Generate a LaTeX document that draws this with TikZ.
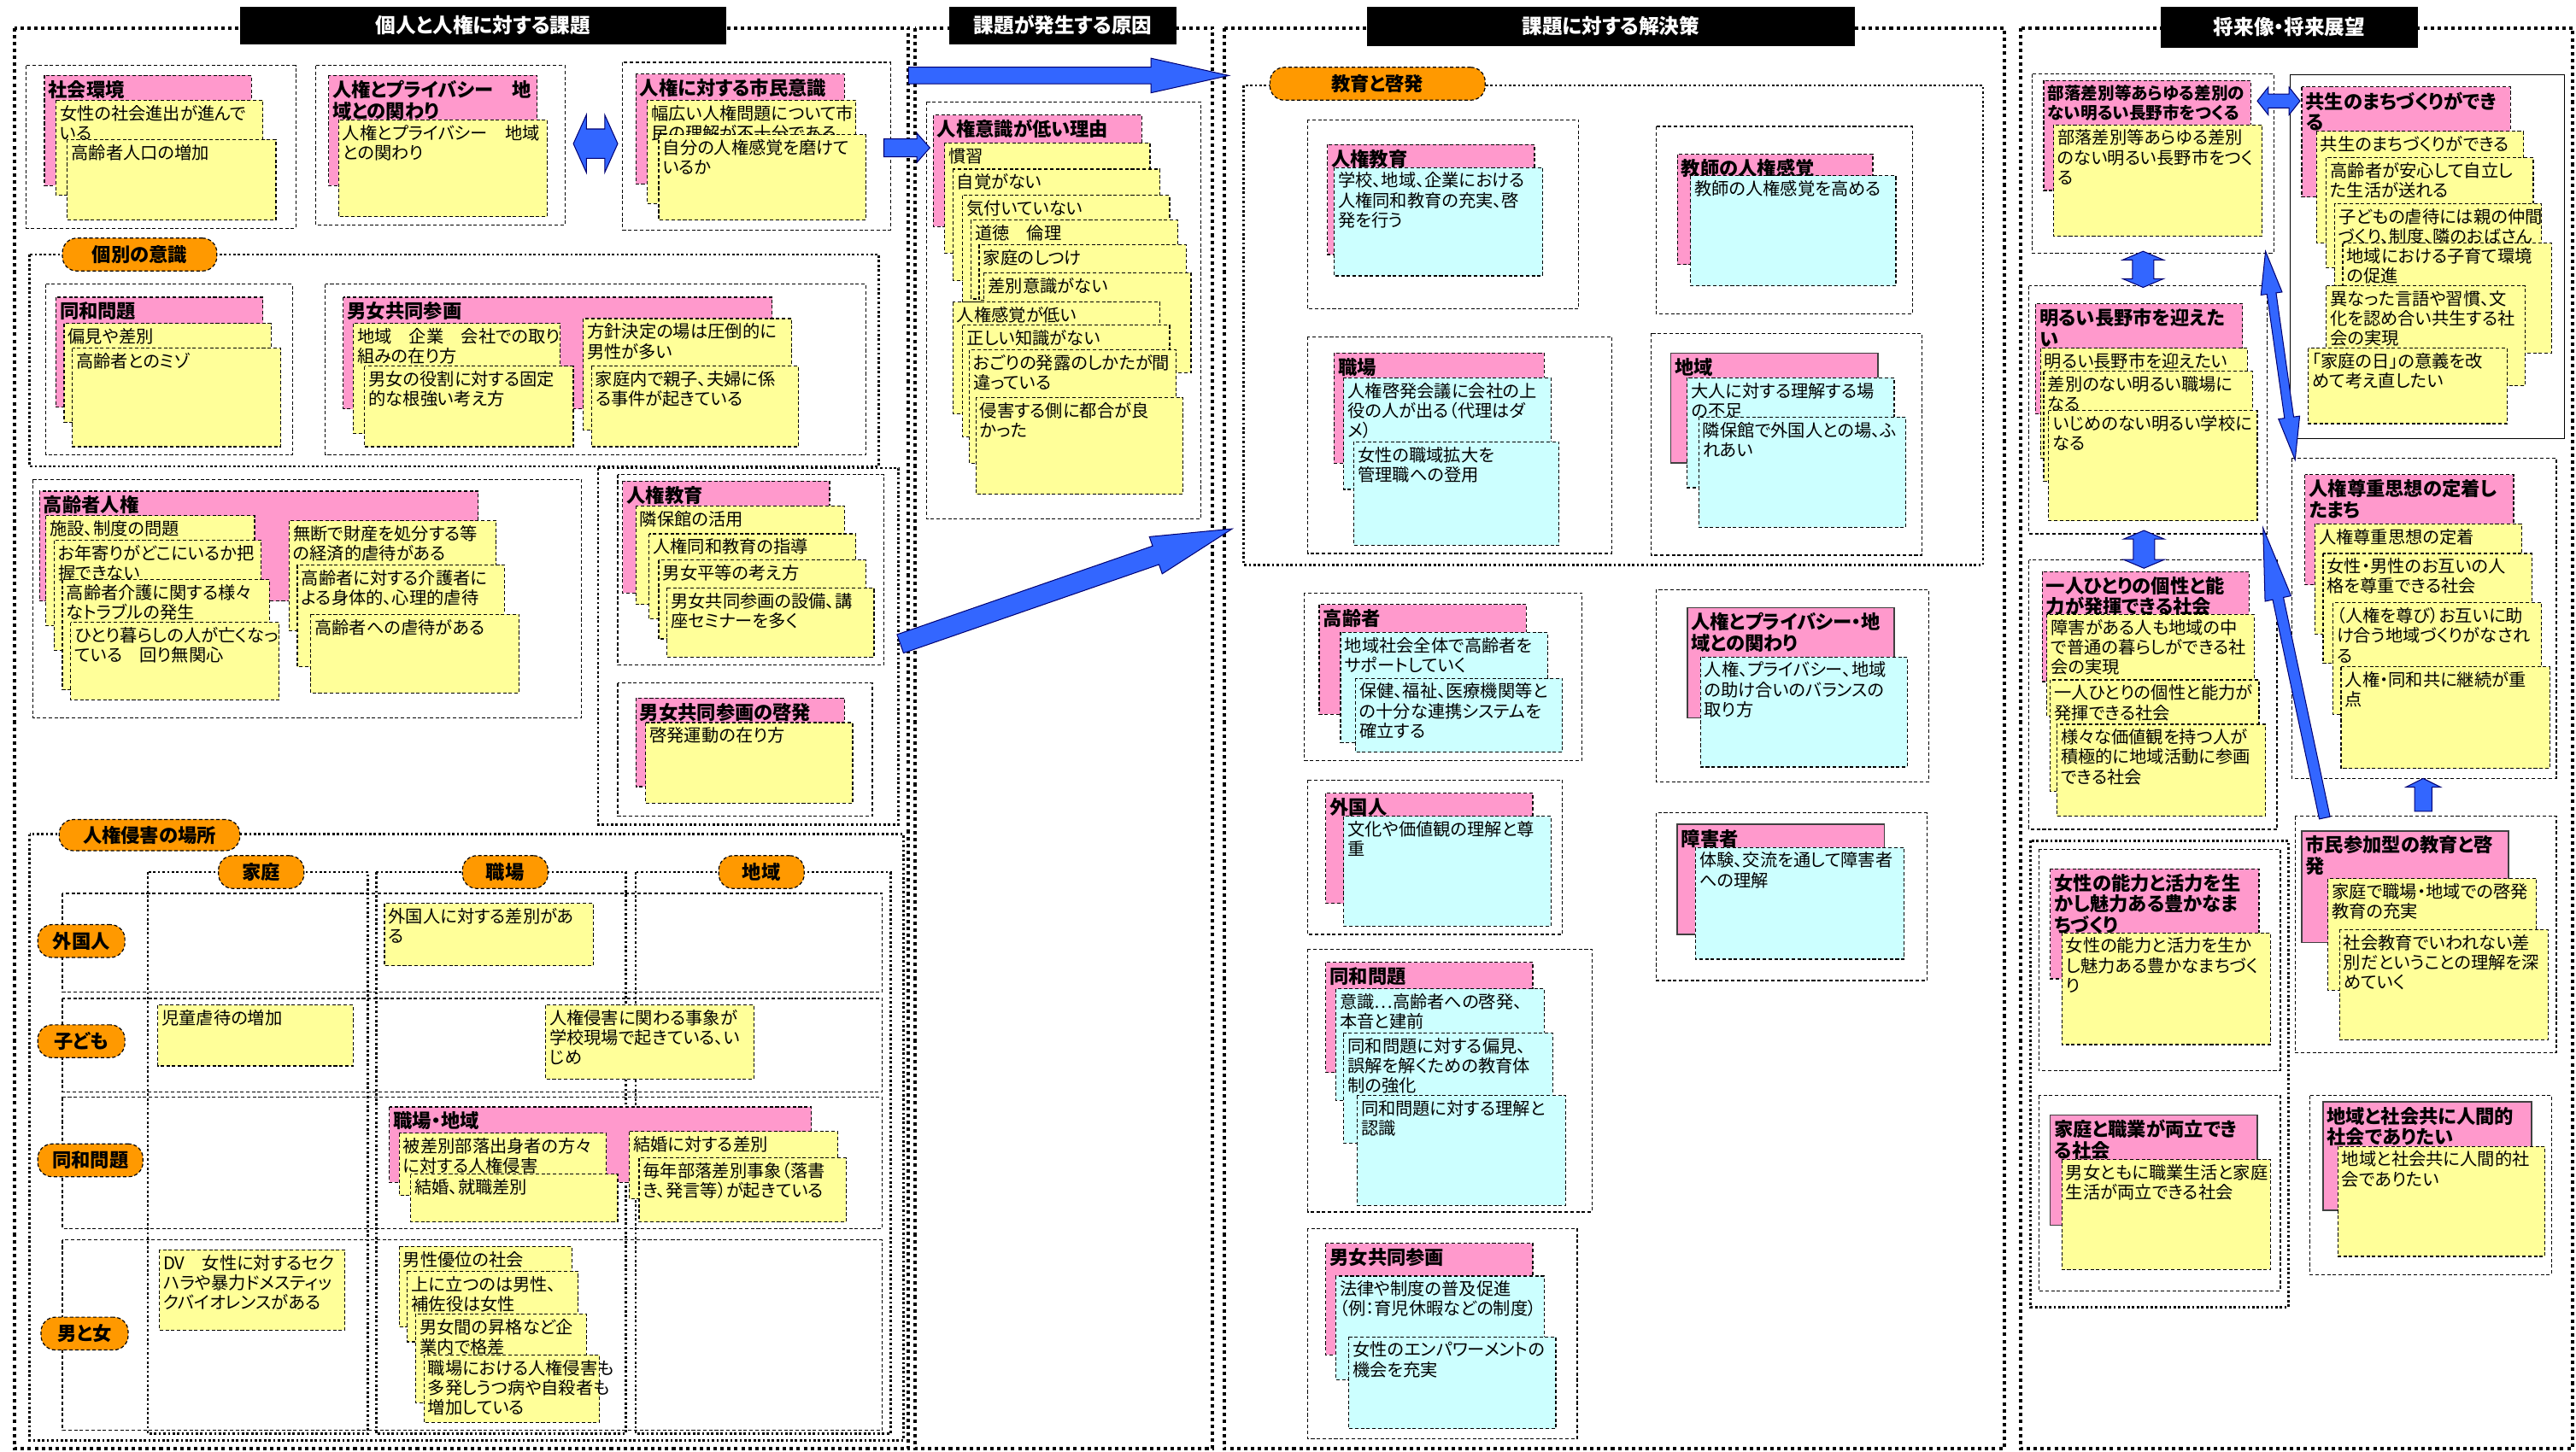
\documentclass[tikz,border=0pt]{standalone}
\usepackage{fontspec}
\setmainfont{Noto Sans CJK JP}[RawFeature=+palt]
\usetikzlibrary{calc}

\definecolor{notepink}{HTML}{FF99CC}
\definecolor{noteyellow}{HTML}{FFFF99}
\definecolor{notecyan}{HTML}{CCFFFF}
\definecolor{tagorange}{HTML}{FF9900}
\definecolor{arrowblue}{HTML}{3366FF}

\newlength{\pxu}
\setlength{\pxu}{0.02cm}

\tikzset{
  colframe/.style={line width=1.2pt, dash pattern=on 1.2pt off 1.2pt},
  secframe/.style={line width=0.8pt, dash pattern=on 0.8pt off 0.8pt},
  boxframe/.style={line width=0.35pt, dash pattern=on 1.2pt off 0.8pt},
  pinknote/.style={boxframe, fill=notepink},
  pinksolid/.style={draw=black!75, line width=0.45pt, fill=notepink},
  yellownote/.style={boxframe, fill=noteyellow},
  cyannote/.style={boxframe, fill=notecyan},
  notetext/.style={anchor=north west, inner xsep=1.2pt, inner ysep=1.5pt, align=left, font=\fontsize{6}{6.85}\selectfont},
  titletext/.style={notetext, font=\fontsize{6.6}{7.3}\selectfont\bfseries},
  header/.style={fill=black, text=white, inner sep=0pt, font=\fontsize{7}{8}\selectfont\bfseries},
  tag/.style={fill=tagorange, draw=black, line width=0.35pt, dash pattern=on 1.2pt off 0.8pt, rounded corners=5pt, inner sep=0pt, font=\fontsize{6.6}{7.5}\selectfont\bfseries},
  blockarrow/.style={fill=arrowblue, draw=blue!45!black, line width=0.3pt, line join=miter}
}

% note: [text style]{box style}{name}{top left}{bottom right}{text}
\newcommand{\note}[6][notetext]{\draw[#2] (#4) rectangle (#5); \node[#1] (#3) at (#4) {#6};}

% block arrows: from, to, shaft half width, head half width, head length
\newcommand{\blockarrow}[5]{%
  \coordinate (hdB) at ($(#2)!#5!(#1)$);
  \filldraw[blockarrow] ($(#1)!#3!90:(#2)$) -- ($(hdB)!#3!-90:(#1)$) -- ($(hdB)!#4!-90:(#1)$) -- (#2)
    -- ($(hdB)!#4!90:(#1)$) -- ($(hdB)!#3!90:(#1)$) -- ($(#1)!#3!-90:(#2)$) -- cycle;}
\newcommand{\dblarrow}[5]{%
  \coordinate (hdB) at ($(#2)!#5!(#1)$);
  \coordinate (hdA) at ($(#1)!#5!(#2)$);
  \filldraw[blockarrow] (#1) -- ($(hdA)!#4!-90:(#2)$) -- ($(hdA)!#3!-90:(#2)$) -- ($(hdB)!#3!90:(#1)$)
    -- ($(hdB)!#4!90:(#1)$) -- (#2) -- ($(hdB)!#4!-90:(#1)$) -- ($(hdB)!#3!-90:(#1)$)
    -- ($(hdA)!#3!90:(#2)$) -- ($(hdA)!#4!90:(#2)$) -- cycle;}

\begin{document}
\begin{tikzpicture}[x=0.02cm, y=-0.02cm]
\useasboundingbox (0,0) rectangle (1568,884);

% 個人と人権に対する課題
\draw[colframe] (9,17) rectangle (553,882);
\node[header, minimum width=296\pxu, minimum height=23\pxu] (hdIssue) at (294,15.5) {個人と人権に対する課題};

\draw[boxframe] (16,40) rectangle (180,139);
\note[titletext]{pinknote}{env}{27,46}{153,113}{社会環境}
\note{yellownote}{envA}{34,61}{160,119}{女性の社会進出が進んで\\いる}
\note{yellownote}{envB}{41,85}{168,134}{高齢者人口の増加}

\draw[boxframe] (192,40) rectangle (344,137);
\note[titletext]{pinknote}{priv}{200,46}{327,113}{人権とプライバシー　地\\域との関わり}
\note{yellownote}{privA}{206,73}{333,132}{人権とプライバシー　地域\\との関わり}

\draw[boxframe] (379,38) rectangle (542,140);
\note[titletext]{pinknote}{citz}{387,45}{514,112}{人権に対する市民意識}
\note{yellownote}{citzA}{394,61}{521,124}{幅広い人権問題について市\\民の理解が不十分である}
\note{yellownote}{citzB}{401,82}{527,134}{自分の人権感覚を磨けて\\いるか}

% 個別の意識
\draw[secframe] (18,155) rectangle (535,284);
\node[tag, minimum width=94\pxu, minimum height=20\pxu] (tagOwn) at (85,155) {個別の意識};

\draw[boxframe] (28,173) rectangle (178,277);
\note[titletext]{pinknote}{dowa}{34,181}{160,248}{同和問題}
\note{yellownote}{dowaA}{39,197}{165,257}{偏見や差別}
\note{yellownote}{dowaB}{44,212}{171,272}{高齢者とのミゾ}

\draw[boxframe] (198,173) rectangle (527,277);
\note[titletext]{pinknote}{gend}{209,181}{470,249}{男女共同参画}
\note{yellownote}{gendA}{215,197}{341,264}{地域　企業　会社での取り\\組みの在り方}
\note{yellownote}{gendB}{222,223}{349,272}{男女の役割に対する固定\\的な根強い考え方}
\note{yellownote}{gendC}{355,194}{482,262}{方針決定の場は圧倒的に\\男性が多い}
\note{yellownote}{gendD}{360,223}{486,272}{家庭内で親子、夫婦に係\\る事件が起きている}

% 高齢者人権
\draw[boxframe] (20,292) rectangle (354,437);
\note[titletext]{pinknote}{eld}{24,299}{291,366}{高齢者人権}
\note{yellownote}{eldA}{28,314}{155,381}{施設、制度の問題}
\note{yellownote}{eldB}{33,329}{159,396}{お年寄りがどこにいるか把\\握できない}
\note{yellownote}{eldC}{38,353}{164,420}{高齢者介護に関する様々\\なトラブルの発生}
\note{yellownote}{eldD}{43,379}{170,426}{ひとり暮らしの人が亡くなっ\\ている　回り無関心}
\note{yellownote}{eldE}{176,317}{302,384}{無断で財産を処分する等\\の経済的虐待がある}
\note{yellownote}{eldF}{181,344}{307,406}{高齢者に対する介護者に\\よる身体的、心理的虐待}
\note{yellownote}{eldG}{189,374}{316,422}{高齢者への虐待がある}

% 人権教育
\draw[secframe] (364,285) rectangle (547,502);
\draw[boxframe] (376,289) rectangle (538,405);
\note[titletext]{pinknote}{edu}{379,293}{505,361}{人権教育}
\note{yellownote}{eduA}{387,308}{514,368}{隣保館の活用}
\note{yellownote}{eduB}{395,325}{521,377}{人権同和教育の指導}
\note{yellownote}{eduC}{401,341}{527,389}{男女平等の考え方}
\note{yellownote}{eduD}{406,358}{532,400}{男女共同参画の設備、講\\座セミナーを多く}
\draw[boxframe] (376,416) rectangle (531,497);
\note[titletext]{pinknote}{awar}{387,425}{514,479}{男女共同参画の啓発}
\note{yellownote}{awarA}{393,440}{519,489}{啓発運動の在り方}

% 人権侵害の場所
\draw[secframe] (18,508) rectangle (550,877);
\foreach \xa/\xb in {90/224, 229/381, 387/542}
  \draw[secframe] (\xa,531) rectangle (\xb,873);
\foreach \ya/\yb in {544/604, 608/665, 668/748, 755/871}
  \draw[boxframe] (38,\ya) rectangle (537,\yb);
\node[tag, minimum width=110\pxu, minimum height=19\pxu] (tagPlace) at (91,508.5) {人権侵害の場所};
\foreach \x/\t/\n in {159/家庭/tagHome, 307.5/職場/tagWork, 463.5/地域/tagArea}
  \node[tag, minimum width=52\pxu, minimum height=20\pxu] (\n) at (\x,531) {\t};
\foreach \x/\y/\w/\t/\n in {49.5/573/53/外国人/tagFor, 49.5/634/53/子ども/tagKid, 55/706.5/64/同和問題/tagDowa, 51.5/812/53/男と女/tagMF}
  \node[tag, minimum width=\w\pxu, minimum height=20\pxu] (\n) at (\x,\y) {\t};

\note{yellownote}{forW}{234,550}{361,588}{外国人に対する差別があ\\る}
\note{yellownote}{kidH}{96,612}{215,649}{児童虐待の増加}
\note{yellownote}{kidW}{332,612}{459,657}{人権侵害に関わる事象が\\学校現場で起きている、い\\じめ}
\note[titletext]{pinknote}{dowaW}{237,674}{494,720}{職場・地域}
\note{yellownote}{dowaWA}{243,690}{369,728}{被差別部落出身者の方々\\に対する人権侵害}
\note{yellownote}{dowaWB}{250,715}{376,744}{結婚、就職差別}
\note{yellownote}{dowaWC}{383,689}{510,730}{結婚に対する差別}
\note{yellownote}{dowaWD}{389,705}{515,744}{毎年部落差別事象（落書\\き、発言等）が起きている}
\note{yellownote}{mfH}{97,761}{210,810}{DV　女性に対するセク\\ハラや暴力ドメスティッ\\クバイオレンスがある}
\note{yellownote}{mfWA}{243,759}{348,808}{男性優位の社会}
\note{yellownote}{mfWB}{248,774}{352,817}{上に立つのは男性、\\補佐役は女性}
\note{yellownote}{mfWC}{253,800}{357,854}{男女間の昇格など企\\業内で格差}
\note{yellownote}{mfWD}{258,825}{365,866}{職場における人権侵害も\\多発しうつ病や自殺者も\\増加している}

% 課題が発生する原因
\draw[colframe] (557,17) rectangle (738,882);
\node[header, minimum width=138\pxu, minimum height=23\pxu] (hdCause) at (647,15.5) {課題が発生する原因};
\draw[boxframe] (564,62) rectangle (731,316);
\note[titletext]{pinknote}{low}{568,70}{695,138}{人権意識が低い理由}
\note{yellownote}{lowA}{575,87}{700,154}{慣習}
\note{yellownote}{lowB}{580,103}{706,171}{自覚がない}
\note{yellownote}{lowC}{586,119}{712,184}{気付いていない}
\note{yellownote}{lowD}{591,134}{717,182}{道徳　倫理}
\note{yellownote}{lowE}{596,149}{722,183}{家庭のしつけ}
\note{yellownote}{lowF}{599,166}{725,227}{差別意識がない}
\note{yellownote}{lowG}{580,184}{706,252}{人権感覚が低い}
\note{yellownote}{lowH}{586,198}{712,266}{正しい知識がない}
\note{yellownote}{lowI}{590,213}{716,282}{おごりの発露のしかたが間\\違っている}
\note{yellownote}{lowJ}{594,242}{720,301}{侵害する側に都合が良\\かった}

% 課題に対する解決策
\draw[colframe] (745,17) rectangle (1220,882);
\node[header, minimum width=297\pxu, minimum height=24\pxu] (hdSolve) at (980.5,16) {課題に対する解決策};
\draw[secframe] (757,52) rectangle (1207,344);
\node[tag, minimum width=131\pxu, minimum height=20\pxu] (tagEdu) at (838.5,51) {教育と啓発};

\draw[boxframe] (796,73) rectangle (961,188);
\note[titletext]{pinknote}{sEdu}{808,88}{934,155}{人権教育}
\note{cyannote}{sEduA}{812,102}{939,168}{学校、地域、企業における\\人権同和教育の充実、啓\\発を行う}
\draw[boxframe] (1008,77) rectangle (1164,191);
\note[titletext]{pinknote}{sTch}{1021,94}{1140,161}{教師の人権感覚}
\note{cyannote}{sTchA}{1029,107}{1154,174}{教師の人権感覚を高める}
\draw[boxframe] (796,205) rectangle (981,337);
\note[titletext]{pinknote}{sWrk}{812,215}{940,282}{職場}
\note{cyannote}{sWrkA}{818,230}{944,298}{人権啓発会議に会社の上\\役の人が出る（代理はダ\\メ）}
\note{cyannote}{sWrkB}{824,269}{949,332}{女性の職域拡大を\\管理職への登用}
\draw[boxframe] (1005,203) rectangle (1170,338);
\note[titletext]{pinksolid}{sArea}{1017,215}{1143,282}{地域}
\note{cyannote}{sAreaA}{1027,230}{1153,297}{大人に対する理解する場\\の不足}
\note{cyannote}{sAreaB}{1034,254}{1160,321}{隣保館で外国人との場、ふ\\れあい}

\draw[boxframe] (794,361) rectangle (963,463);
\note[titletext]{pinknote}{sEld}{803,368}{929,435}{高齢者}
\note{cyannote}{sEldA}{816,385}{942,452}{地域社会全体で高齢者を\\サポートしていく}
\note{cyannote}{sEldB}{825,413}{951,458}{保健、福祉、医療機関等と\\の十分な連携システムを\\確立する}
\draw[boxframe] (1008,359) rectangle (1174,476);
\note[titletext]{pinksolid}{sPriv}{1027,370}{1153,437}{人権とプライバシー・地\\域との関わり}
\note{cyannote}{sPrivA}{1035,400}{1161,467}{人権、プライバシー、地域\\の助け合いのバランスの\\取り方}
\draw[boxframe] (796,475) rectangle (951,569);
\note[titletext]{pinknote}{sFor}{807,483}{933,550}{外国人}
\note{cyannote}{sForA}{818,497}{944,564}{文化や価値観の理解と尊\\重}
\draw[boxframe] (1008,495) rectangle (1173,597);
\note[titletext]{pinksolid}{sDis}{1021,502}{1147,569}{障害者}
\note{cyannote}{sDisA}{1032,516}{1159,584}{体験、交流を通して障害者\\への理解}
\draw[boxframe] (796,578) rectangle (969,738);
\note[titletext]{pinknote}{sDowa}{807,586}{933,653}{同和問題}
\note{cyannote}{sDowaA}{813,602}{940,670}{意識…高齢者への啓発、\\本音と建前}
\note{cyannote}{sDowaB}{818,629}{945,696}{同和問題に対する偏見、\\誤解を解くための教育体\\制の強化}
\note{cyannote}{sDowaC}{826,667}{953,734}{同和問題に対する理解と\\認識}
\draw[boxframe] (796,748) rectangle (960,876);
\note[titletext]{pinknote}{sGend}{807,757}{933,825}{男女共同参画}
\note{cyannote}{sGendA}{813,777}{940,840}{法律や制度の普及促進\\（例：育児休暇などの制度）}
\note{cyannote}{sGendB}{821,814}{947,870}{女性のエンパワーメントの\\機会を充実}

% 将来像・将来展望
\draw[colframe] (1230,17) rectangle (1566,882);
\node[header, minimum width=157\pxu, minimum height=25\pxu] (hdFuture) at (1393.5,16.5) {将来像・将来展望};

\draw[boxframe] (1237,45) rectangle (1384,154);
\note[titletext, font=\fontsize{5.8}{6.8}\selectfont\bfseries]{pinknote}{fBur}{1244,49}{1370,116}{部落差別等あらゆる差別の\\ない明るい長野市をつくる}
\note{yellownote}{fBurA}{1250,76}{1377,144}{部落差別等あらゆる差別\\のない明るい長野市をつく\\る}

\draw[line width=0.5pt] (1394,45.5) rectangle (1561,267);
\note[titletext]{pinknote}{fLive}{1401,53}{1528,120}{共生のまちづくりができ\\る}
\note{yellownote}{fLiveA}{1410,80}{1536,148}{共生のまちづくりができる}
\note{yellownote}{fLiveB}{1416,96}{1542,163}{高齢者が安心して自立し\\た生活が送れる}
\note{yellownote}{fLiveC}{1421,124}{1547,174}{子どもの虐待には親の仲間\\づくり、制度、隣のおばさん}
\note{yellownote}{fLiveD}{1426,148}{1553,215}{地域における子育て環境\\の促進}
\note{yellownote}{fLiveE}{1416,174}{1537,235}{異なった言語や習慣、文\\化を認め合い共生する社\\会の実現}
\note{yellownote}{fLiveF}{1405,212}{1526,258}{「家庭の日」の意義を改\\めて考え直したい}

\draw[boxframe] (1235,174) rectangle (1380,325);
\note[titletext]{pinknote}{fBright}{1239,185}{1365,252}{明るい長野市を迎えた\\い}
\note{yellownote}{fBrightA}{1242,212}{1368,279}{明るい長野市を迎えたい}
\note{yellownote}{fBrightB}{1244,226}{1371,293}{差別のない明るい職場に\\なる}
\note{yellownote}{fBrightC}{1247,250}{1374,317}{いじめのない明るい学校に\\なる}

\draw[boxframe] (1235,341) rectangle (1386,505);
\note[titletext]{pinknote}{fEach}{1243,348}{1369,415}{一人ひとりの個性と能\\力が発揮できる社会}
\note{yellownote}{fEachA}{1246,374}{1372,436}{障害がある人も地域の中\\で普通の暮らしができる社\\会の実現}
\note{yellownote}{fEachB}{1248,414}{1375,482}{一人ひとりの個性と能力が\\発揮できる社会}
\note{yellownote}{fEachC}{1252,441}{1379,497}{様々な価値観を持つ人が\\積極的に地域活動に参画\\できる社会}

\draw[boxframe] (1395,279) rectangle (1556,474);
\note[titletext]{pinknote}{fResp}{1403,289}{1530,356}{人権尊重思想の定着し\\たまち}
\note{yellownote}{fRespA}{1409,319}{1535,386}{人権尊重思想の定着}
\note{yellownote}{fRespB}{1414,337}{1541,404}{女性・男性のお互いの人\\格を尊重できる社会}
\note{yellownote}{fRespC}{1420,367}{1547,435}{（人権を尊び）お互いに助\\け合う地域づくりがなされ\\る}
\note{yellownote}{fRespD}{1425,406}{1552,468}{人権・同和共に継続が重\\点}

\draw[boxframe] (1397,497) rectangle (1556,641);
\note[titletext]{pinksolid}{fCit}{1401,506}{1527,574}{市民参加型の教育と啓\\発}
\note{yellownote}{fCitA}{1417,535}{1544,603}{家庭で職場・地域での啓発\\教育の充実}
\note{yellownote}{fCitB}{1424,566}{1551,633}{社会教育でいわれない差\\別だということの理解を深\\めていく}

\draw[secframe] (1236,512) rectangle (1393,796);
\draw[boxframe] (1241,517) rectangle (1388,652);
\note[titletext]{pinknote}{fWom}{1248,529}{1375,596}{女性の能力と活力を生\\かし魅力ある豊かなま\\ちづくり}
\note{yellownote}{fWomA}{1255,568}{1382,636}{女性の能力と活力を生か\\し魅力ある豊かなまちづく\\り}
\draw[boxframe] (1241,667) rectangle (1388,786);
\note[titletext]{pinksolid}{fBal}{1248,679}{1374,746}{家庭と職業が両立でき\\る社会}
\note{yellownote}{fBalA}{1255,706}{1382,773}{男女ともに職業生活と家庭\\生活が両立できる社会}
\draw[boxframe] (1406,667) rectangle (1553,776);
\note[titletext]{pinksolid}{fHum}{1414,671}{1541,737}{地域と社会共に人間的\\社会でありたい}
\note{yellownote}{fHumA}{1423,698}{1549,765}{地域と社会共に人間的社\\会でありたい}

% fleches
\coordinate (aTopS) at (553,46);   \coordinate (aTopE) at (748,46);
\coordinate (aLowS) at (548,392);  \coordinate (aLowE) at (750,322);
\coordinate (aCauS) at (538,90);   \coordinate (aCauE) at (566,90);
\coordinate (aOwnS) at (349,87.5); \coordinate (aOwnE) at (376,87.5);
\blockarrow{aTopS}{aTopE}{2.9pt}{6pt}{27pt}
\blockarrow{aLowS}{aLowE}{3.4pt}{6.8pt}{28pt}
\blockarrow{aCauS}{aCauE}{3.1pt}{5.1pt}{4.5pt}
\dblarrow{aOwnS}{aOwnE}{5.1pt}{10pt}{4.5pt}

\coordinate (fA1) at (1374,61.5);  \coordinate (fA2) at (1400,61.5);
\coordinate (fB1) at (1304.5,153); \coordinate (fB2) at (1304.5,175);
\coordinate (fC1) at (1305,323);   \coordinate (fC2) at (1305,346);
\coordinate (fD1) at (1379,153);   \coordinate (fD2) at (1397,280);
\coordinate (fE1) at (1415,498);   \coordinate (fE2) at (1377.5,321.5);
\coordinate (fF1) at (1475,494);   \coordinate (fF2) at (1475,474);
\dblarrow{fA1}{fA2}{2.4pt}{4.8pt}{3.8pt}
\dblarrow{fB1}{fB2}{3.7pt}{7.1pt}{3pt}
\dblarrow{fC1}{fC2}{3.7pt}{7.1pt}{3pt}
\dblarrow{fD1}{fD2}{1.6pt}{3.7pt}{14.8pt}
\blockarrow{fE1}{fE2}{1.9pt}{4.6pt}{25pt}
\blockarrow{fF1}{fF2}{3pt}{6pt}{3pt}

\end{tikzpicture}
\end{document}
